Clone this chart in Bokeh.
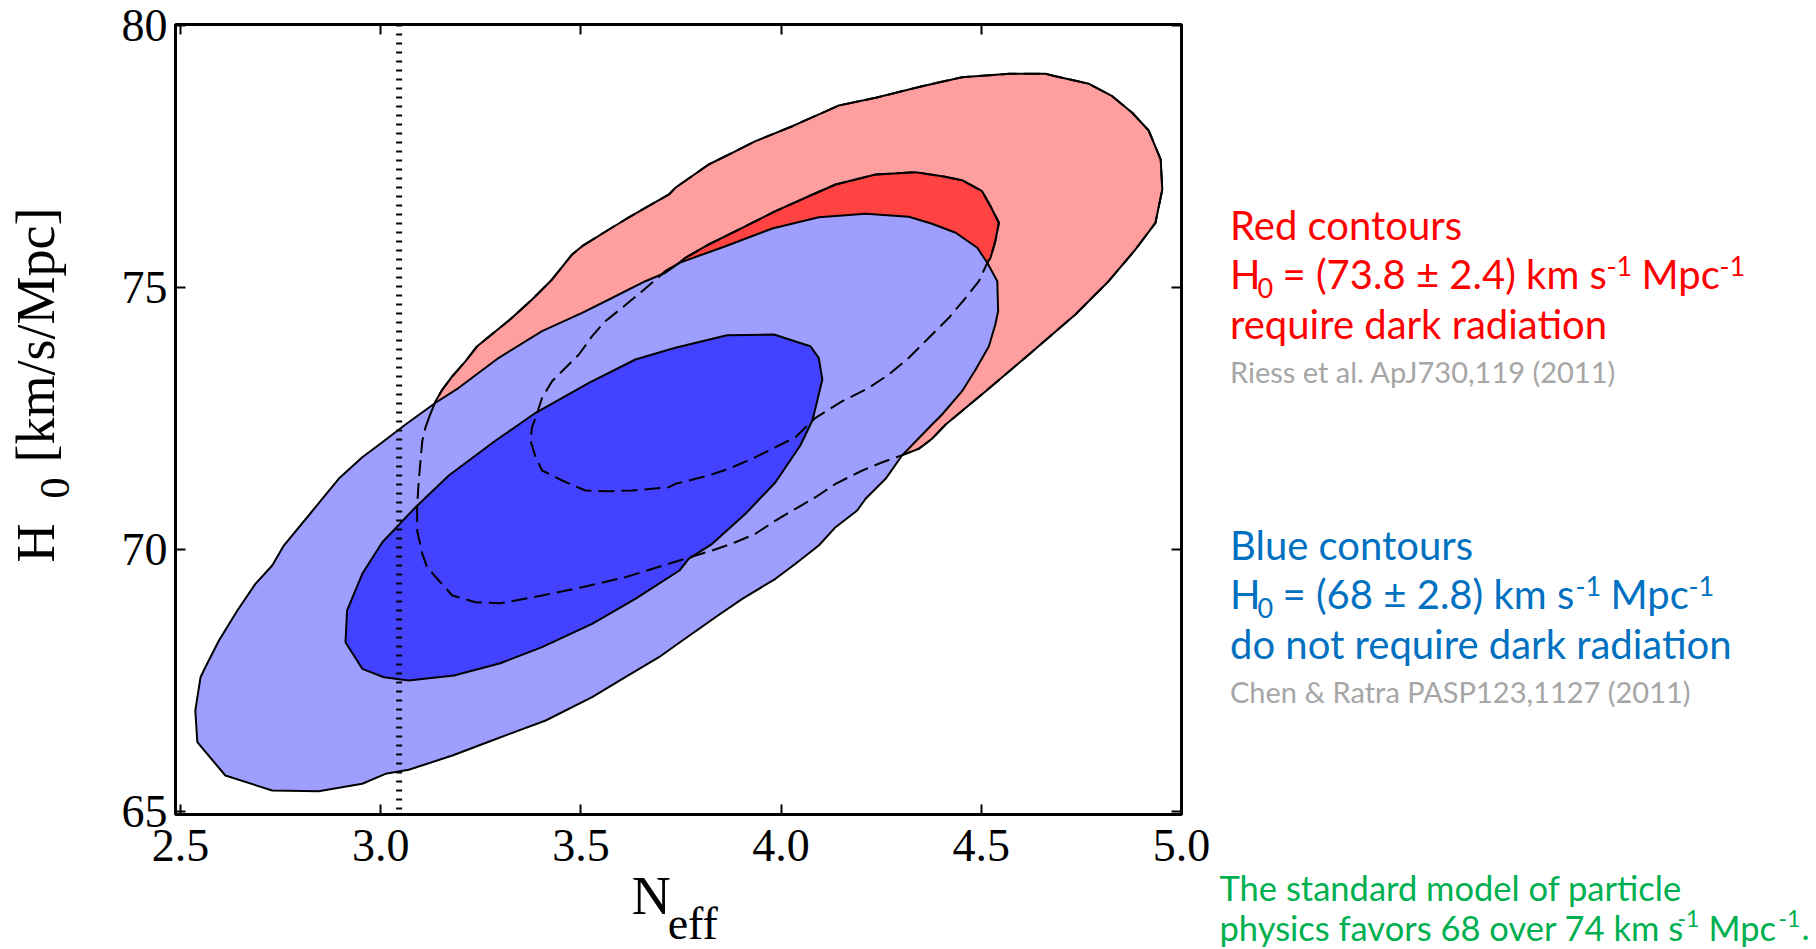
import math

from bokeh.plotting import figure
from bokeh.layouts import row, column
from bokeh.models import Range1d, LinearAxis, FixedTicker, Span
from bokeh.core.properties import value
from bokeh.embed import file_html
from bokeh.resources import INLINE

# ---------------------------------------------------------------- data
N_TICKS = [2.5, 3.0, 3.5, 4.0, 4.5, 5.0]
N_TICK_LABELS = ["2.5", "3.0", "3.5", "4.0", "4.5", "5.0"]
H0_TICKS = [65, 70, 75, 80]
H0_TICK_LABELS = ["65", "70", "75", "80"]

# standard-model value of N_eff
NEFF_STANDARD = 3.046

# Red (Riess et al. H0 prior) 95% contour
red95_neff = [3.122, 3.137, 3.154, 3.179, 3.212, 3.241, 3.287, 3.328, 3.378, 3.428,
              3.478, 3.503, 3.570, 3.611, 3.661, 3.720, 3.736, 3.819, 3.878, 3.936,
              4.028, 4.103, 4.144, 4.236, 4.352, 4.452, 4.569, 4.660, 4.685, 4.769,
              4.827, 4.877, 4.918, 4.948, 4.952, 4.935, 4.885, 4.818, 4.735, 4.619,
              4.511, 4.411, 4.377, 4.344, 4.311, 4.253, 4.203, 4.136, 4.086, 4.036,
              3.986, 3.936, 3.886, 3.828, 3.778, 3.746, 3.611, 3.503, 3.403, 3.299,
              3.237, 3.179, 3.145, 3.116, 3.104, 3.091, 3.091, 3.095, 3.104, 3.112]
red95_h0 = [72.544, 72.830, 73.053, 73.307, 73.594, 73.880, 74.166, 74.422, 74.771, 75.153,
            75.630, 75.788, 76.107, 76.298, 76.521, 76.775, 76.903, 77.347, 77.571, 77.792,
            78.078, 78.334, 78.473, 78.620, 78.842, 79.013, 79.078, 79.078, 79.032, 78.887,
            78.651, 78.334, 77.996, 77.443, 76.870, 76.235, 75.725, 75.120, 74.485, 73.721,
            73.021, 72.385, 72.113, 71.922, 71.826, 71.666, 71.508, 71.254, 70.998, 70.777,
            70.553, 70.300, 70.139, 69.981, 69.866, 69.790, 69.471, 69.281, 69.122, 68.975,
            68.994, 69.122, 69.408, 69.662, 69.918, 70.363, 70.807, 71.317, 72.080, 72.334]

# Red 68% contour
red68_neff = [3.761, 3.819, 3.903, 3.986, 4.069, 4.136, 4.236, 4.336, 4.402, 4.452,
              4.502, 4.523, 4.544, 4.535, 4.523, 4.515, 4.494, 4.461, 4.419, 4.369,
              4.319, 4.269, 4.219, 4.153, 4.086, 4.036, 3.986, 3.936, 3.869, 3.819,
              3.736, 3.720, 3.628, 3.570, 3.511, 3.453, 3.403, 3.387, 3.374, 3.378,
              3.387, 3.403, 3.428, 3.453, 3.495, 3.528, 3.561, 3.603, 3.653, 3.711,
              3.746]
red68_h0 = [75.567, 75.821, 76.139, 76.456, 76.742, 76.966, 77.156, 77.200, 77.124, 77.048,
            76.838, 76.552, 76.235, 75.884, 75.567, 75.471, 75.120, 74.803, 74.422, 74.040,
            73.658, 73.340, 73.086, 72.830, 72.513, 72.143, 71.952, 71.761, 71.540, 71.412,
            71.254, 71.189, 71.126, 71.113, 71.126, 71.317, 71.508, 71.761, 72.080, 72.334,
            72.513, 72.895, 73.212, 73.403, 73.721, 74.071, 74.357, 74.613, 74.929, 75.311,
            75.471]

# Blue (Chen & Ratra H0 prior) 95% contour
blue95_neff = [3.062, 3.137, 3.195, 3.295, 3.403, 3.503, 3.570, 3.661, 3.711, 3.746,
               3.861, 3.978, 4.094, 4.211, 4.319, 4.377, 4.436, 4.490, 4.515, 4.540,
               4.542, 4.535, 4.519, 4.486, 4.452, 4.402, 4.377, 4.302, 4.261, 4.211,
               4.190, 4.136, 4.094, 4.036, 3.986, 3.903, 3.836, 3.736, 3.695, 3.611,
               3.528, 3.412, 3.278, 3.179, 3.070, 3.012, 2.954, 2.845, 2.729, 2.612,
               2.542, 2.537, 2.550, 2.562, 2.596, 2.642, 2.687, 2.729, 2.758, 2.820,
               2.895, 2.954, 3.004]
blue95_h0 = [72.385, 72.800, 73.086, 73.658, 74.166, 74.517, 74.771, 75.120, 75.281, 75.471,
             75.788, 76.126, 76.342, 76.406, 76.349, 76.216, 76.044, 75.758, 75.471, 75.120,
             74.548, 74.294, 73.880, 73.435, 73.021, 72.576, 72.385, 71.794, 71.349, 70.968,
             70.744, 70.426, 70.076, 69.727, 69.441, 69.059, 68.708, 68.168, 67.945, 67.563,
             67.181, 66.737, 66.355, 66.069, 65.796, 65.719, 65.529, 65.387, 65.401, 65.687,
             66.323, 66.927, 67.563, 67.754, 68.263, 68.836, 69.345, 69.695, 70.076, 70.649,
             71.349, 71.761, 72.048]

# Blue 68% contour
blue68_neff = [3.287, 3.170, 3.087, 3.004, 2.954, 2.916, 2.912, 2.954, 3.008, 3.070,
               3.183, 3.299, 3.403, 3.528, 3.636, 3.746, 3.769, 3.828, 3.911, 3.986,
               4.048, 4.078, 4.086, 4.103, 4.094, 4.073, 3.982, 3.865, 3.736, 3.636,
               3.520, 3.387, 3.345]
blue68_h0 = [72.080, 71.412, 70.807, 70.139, 69.536, 68.836, 68.231, 67.723, 67.563, 67.500,
             67.595, 67.830, 68.136, 68.582, 69.059, 69.599, 69.823, 70.109, 70.681, 71.284,
             71.985, 72.462, 72.704, 73.244, 73.658, 73.880, 74.103, 74.090, 73.849, 73.626,
             73.181, 72.609, 72.385]

LIGHT_RED, DARK_RED = "#FF9E9E", "#FF4242"
LIGHT_BLUE, DARK_BLUE = "#9E9EFF", "#4242FF"

# ---------------------------------------------------------------- layout sizes (px)
PAGE_W, PAGE_H = 1816, 949
YTITLE_W = 100                 # strip holding the vertical axis title
MAIN_W, MAIN_H = 1116, 882     # main plot
XTITLE_TOP = 858               # horizontal title strip tucks under the tick labels
TEXT_W = PAGE_W - YTITLE_W - MAIN_W
FRAME_L, FRAME_R, FRAME_T, FRAME_B = 175, 1181, 24, 814   # frame edges on the page

X_RANGE = (2.4875, 5.0)
Y_RANGE = (64.943, 80.019)

TICK_FONT = "Liberation Serif"
TEXT_FONT = "Lato"

# ---------------------------------------------------------------- main plot
p = figure(width=MAIN_W, height=MAIN_H,
           x_range=Range1d(*X_RANGE), y_range=Range1d(*Y_RANGE),
           output_backend="svg", toolbar_location=None,
           min_border_left=FRAME_L - YTITLE_W,
           min_border_right=YTITLE_W + MAIN_W - FRAME_R,
           min_border_top=FRAME_T, min_border_bottom=MAIN_H - FRAME_B)
p.background_fill_color = "white"
p.border_fill_color = "white"
p.outline_line_color = "black"
p.outline_line_width = 3
p.grid.visible = False


def style_axis(ax, ticks, labels, show_labels):
    ax.ticker = FixedTicker(ticks=ticks)
    ax.axis_line_color = None
    ax.major_tick_in = 10
    ax.major_tick_out = 0
    ax.major_tick_line_width = 2
    ax.major_tick_line_color = "black"
    ax.minor_tick_line_color = None
    if show_labels:
        ax.major_label_overrides = {t: s for t, s in zip(ticks, labels)}
        ax.major_label_text_font = TICK_FONT
        ax.major_label_text_font_size = "46px"
        ax.major_label_text_color = "black"
    else:
        ax.major_label_text_font_size = "1px"
        ax.major_label_text_color = None
        ax.major_label_standoff = 0


style_axis(p.xaxis[0], N_TICKS, N_TICK_LABELS, True)
style_axis(p.yaxis[0], H0_TICKS, H0_TICK_LABELS, True)
p.xaxis[0].major_label_standoff = 15
p.yaxis[0].major_label_standoff = 8

top_axis = LinearAxis()
style_axis(top_axis, N_TICKS, N_TICK_LABELS, False)
p.add_layout(top_axis, "above")
right_axis = LinearAxis()
style_axis(right_axis, H0_TICKS, H0_TICK_LABELS, False)
p.add_layout(right_axis, "right")

# filled contours
p.patch(red95_neff, red95_h0, fill_color=LIGHT_RED, line_color="black", line_width=2)
p.patch(red68_neff, red68_h0, fill_color=DARK_RED, line_color="black", line_width=2)
p.patch(blue95_neff, blue95_h0, fill_color=LIGHT_BLUE, line_color="black", line_width=2)
p.patch(blue68_neff, blue68_h0, fill_color=DARK_BLUE, line_color="black", line_width=2)

# red contour lines, dashed where they run beneath the blue regions
p.patch(red95_neff, red95_h0, fill_alpha=0, line_color="black", line_width=2, line_dash="16 7")
p.patch(red68_neff, red68_h0, fill_alpha=0, line_color="black", line_width=2, line_dash="16 7")

p.add_layout(Span(location=NEFF_STANDARD, dimension="height", line_color="black",
                  line_width=6, line_dash="2 7"))


# ---------------------------------------------------------------- text panels
def text_panel(width, height, x0, y0, fill="white"):
    """Axis-less figure whose ranges are page pixels (y grows downwards)."""
    f = figure(width=width, height=height,
               x_range=Range1d(x0, x0 + width), y_range=Range1d(y0 + height, y0),
               output_backend="svg", toolbar_location=None,
               x_axis_type=None, y_axis_type=None,
               min_border=0, min_border_left=0, min_border_right=0,
               min_border_top=0, min_border_bottom=0)
    f.outline_line_color = None
    f.grid.visible = False
    f.background_fill_color = fill
    f.border_fill_color = fill
    return f


# the glyph baseline sits this fraction of the font size below the anchor
BASELINE_DROP = 0.42


def put(f, text, px, py, size, color, font=TEXT_FONT, angle=0.0):
    """Place text so that its baseline starts at page pixel (px, py)."""
    if angle:
        px -= BASELINE_DROP * size
    else:
        py -= BASELINE_DROP * size
    f.text(x=[px], y=[py], text=[text], text_font=value(font),
           text_font_size=value(f"{size}px"), text_color=color,
           text_align="left", text_baseline="alphabetic", angle=angle)


# vertical axis title
ytitle = text_panel(YTITLE_W, PAGE_H, 0, 0)
put(ytitle, "H", 58, 562, 54, "black", TICK_FONT, math.pi / 2)
put(ytitle, "0", 72, 498, 42, "black", TICK_FONT, math.pi / 2)
put(ytitle, "[km/s/Mpc]", 58, 462, 54, "black", TICK_FONT, math.pi / 2)

# horizontal axis title: a transparent strip pulled up under the tick labels
xtitle = text_panel(MAIN_W, PAGE_H - XTITLE_TOP, YTITLE_W, XTITLE_TOP, fill=None)
xtitle.styles = {"margin-top": f"-{MAIN_H - XTITLE_TOP}px"}
put(xtitle, "N", 606, 918, 54, "black", TICK_FONT)
put(xtitle, "eff", 646, 942, 46, "black", TICK_FONT)

# notes on the right
notes = text_panel(TEXT_W, PAGE_H, YTITLE_W + MAIN_W, 0)
RED, BLUE, GRAY, GREEN = "#FF0000", "#0070C0", "#A6A6A6", "#00B050"
BIG, SMALL, REF = 40, 27, 29
NOTE, NOTE_SUP = 34.5, 23

put(notes, "Red contours", 1229.5, 241, BIG, RED)
put(notes, "H", 1229.5, 290, BIG, RED)
put(notes, "0", 1257, 299, SMALL, RED)
put(notes, "= (73.8 ± 2.4) km s", 1282, 290, BIG, RED)
put(notes, "-1", 1606, 277, SMALL, RED)
put(notes, "Mpc", 1641, 290, BIG, RED)
put(notes, "-1", 1719, 277, SMALL, RED)
put(notes, "require dark radiation", 1229.5, 340, BIG, RED)
put(notes, "Riess et al. ApJ730,119 (2011)", 1229.5, 383, REF, GRAY)

put(notes, "Blue contours", 1229.5, 561, BIG, BLUE)
put(notes, "H", 1229.5, 610, BIG, BLUE)
put(notes, "0", 1257, 619, SMALL, BLUE)
put(notes, "= (68 ± 2.8) km s", 1282, 610, BIG, BLUE)
put(notes, "-1", 1575, 597, SMALL, BLUE)
put(notes, "Mpc", 1610, 610, BIG, BLUE)
put(notes, "-1", 1688, 597, SMALL, BLUE)
put(notes, "do not require dark radiation", 1229.5, 660, BIG, BLUE)
put(notes, "Chen & Ratra PASP123,1127 (2011)", 1229.5, 703, REF, GRAY)

put(notes, "The standard model of particle", 1219, 901.5, NOTE, GREEN)
put(notes, "physics favors 68 over 74 km s", 1219, 941.5, NOTE, GREEN)
put(notes, "-1", 1677, 928, NOTE_SUP, GREEN)
put(notes, "Mpc", 1708, 941.5, NOTE, GREEN)
put(notes, "-1", 1778, 928, NOTE_SUP, GREEN)
put(notes, ".", 1801, 941.5, NOTE, GREEN)

layout = row(ytitle, column(p, xtitle), notes)

with open("out.html", "w") as fh:
    fh.write(file_html(layout, INLINE))
